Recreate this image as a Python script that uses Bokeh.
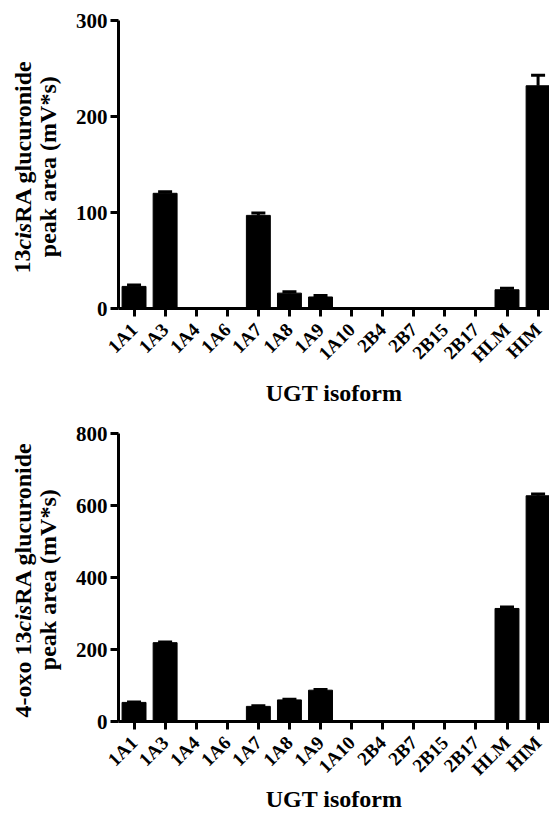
import math
from bokeh.plotting import figure
from bokeh.models import Range1d, FixedTicker, Whisker, TeeHead, ColumnDataSource
from bokeh.core.properties import value
from bokeh.layouts import column, row
from bokeh.embed import file_html
from bokeh.resources import INLINE

# ---------------- data ----------------
categories = ["1A1", "1A3", "1A4", "1A6", "1A7", "1A8", "1A9", "1A10",
              "2B4", "2B7", "2B15", "2B17", "HLM", "HIM"]
top_values = [23, 120, 0, 0, 97, 16, 12, 0, 0, 0, 0, 0, 19.5, 232]
top_errors = [1.5, 1.5, 0, 0, 2.5, 1.5, 1.5, 0, 0, 0, 0, 0, 1.5, 11]
bottom_values = [53, 219, 0, 0, 42, 60, 87, 0, 0, 0, 0, 0, 314, 627]
bottom_errors = [1.5, 2, 0, 0, 1.5, 1.5, 2, 0, 0, 0, 0, 0, 4, 5]
top_ticks = [0, 100, 200, 300]
bottom_ticks = [0, 200, 400, 600, 800]
x_title = "UGT isoform"
top_ylabel = [[("13", False), ("cis", True), ("RA glucuronide", False)],
              [("peak area (mV*s)", False)]]
bottom_ylabel = [[("4-oxo 13", False), ("cis", True), ("RA glucuronide", False)],
                 [("peak area (mV*s)", False)]]

# ---------------- style / layout ----------------
FONT = "Liberation Serif"
PAGE_W, PAGE_H = 549, 815
LABEL_W = 70                      # narrow panel holding the rotated y titles
CHART_W = PAGE_W - LABEL_W
FRAME_LEFT_PAGE = 118
FRAME_H = 288
BAR_W = 0.77
X_START = -0.5
PX_PER_CAT = 31.08
X_END = X_START + (PAGE_W - FRAME_LEFT_PAGE) / PX_PER_CAT

H1, TOP1 = 410, 20
H2, TOP2 = PAGE_H - H1, 23

# Times bold advance widths (per 1000 em)
TB = {'1': 500, '3': 500, '4': 500, '-': 333, 'o': 500, 'x': 500, ' ': 250, 'R': 722,
      'A': 722, 'g': 500, 'l': 278, 'u': 556, 'c': 444, 'r': 444, 'n': 556, 'i': 278,
      'd': 556, 'e': 444, 's': 389, 'p': 556, 'a': 500, 'k': 556, '(': 333, ')': 333,
      'm': 833, 'V': 722, '*': 500}


def text_w(t, fs):
    return sum(TB.get(ch, 500) for ch in t) / 1000.0 * fs


def make_chart(values, errors, ticks, ymax, height, border_top, title_gap):
    border_bottom = height - border_top - FRAME_H
    p = figure(width=CHART_W, height=height, output_backend="svg", toolbar_location=None,
               x_range=Range1d(X_START, X_END), y_range=Range1d(0, ymax),
               min_border_left=FRAME_LEFT_PAGE - LABEL_W, min_border_right=0,
               min_border_top=border_top, min_border_bottom=border_bottom)
    p.outline_line_color = None
    p.grid.visible = False

    xs = list(range(len(categories)))
    src = ColumnDataSource(dict(x=xs, top=values))
    p.vbar(x="x", top="top", width=BAR_W, source=src, fill_color="black",
           line_color="black", line_width=1)

    ex = [x for x, e in zip(xs, errors) if e > 0]
    lo = [v for v, e in zip(values, errors) if e > 0]
    up = [v + e for v, e in zip(values, errors) if e > 0]
    wsrc = ColumnDataSource(dict(base=ex, lower=lo, upper=up))
    p.add_layout(Whisker(base="base", lower="lower", upper="upper", source=wsrc,
                         line_width=3, line_color="black",
                         upper_head=TeeHead(size=14, line_width=3, line_color="black"),
                         lower_head=None))

    for ax in (p.xaxis[0], p.yaxis[0]):
        ax.axis_line_width = 3
        ax.axis_line_color = "black"
        ax.major_tick_line_width = 3
        ax.major_tick_line_color = "black"
        ax.major_tick_out = 8
        ax.major_tick_in = 0
        ax.minor_tick_line_color = None
        ax.major_label_text_font = FONT
        ax.major_label_text_font_style = "bold"
        ax.major_label_text_color = "black"
    p.yaxis[0].ticker = FixedTicker(ticks=ticks)
    p.yaxis[0].major_label_text_font_size = "21px"
    p.yaxis[0].major_label_standoff = 3
    xa = p.xaxis[0]
    xa.ticker = FixedTicker(ticks=xs)
    xa.major_label_overrides = {i: c for i, c in enumerate(categories)}
    xa.major_label_orientation = math.pi / 4
    xa.major_label_text_font_size = "19px"
    xa.major_label_standoff = 10
    xa.axis_label = x_title
    xa.axis_label_text_font = FONT
    xa.axis_label_text_font_style = "bold"
    xa.axis_label_text_font_size = "24px"
    xa.axis_label_text_color = "black"
    xa.axis_label_standoff = title_gap
    return p


p1 = make_chart(top_values, top_errors, top_ticks, 300, H1, TOP1, 4)
p2 = make_chart(bottom_values, bottom_errors, bottom_ticks, 800, H2, TOP2, -3)

# ---- left panel with the rotated y titles (page coordinates, y up) ----
lab = figure(width=LABEL_W, height=PAGE_H, output_backend="svg", toolbar_location=None,
             x_range=Range1d(0, LABEL_W), y_range=Range1d(0, PAGE_H),
             x_axis_type=None, y_axis_type=None,
             min_border_left=0, min_border_right=0, min_border_top=0, min_border_bottom=0)
lab.outline_line_color = None
lab.grid.visible = False

FS = 24
BASELINES = [22, 47]
tx, ty, tt, tstyle = [], [], [], []
for lines, page_top, border_top in ((top_ylabel, 0, TOP1), (bottom_ylabel, H1, TOP2)):
    center = page_top + border_top + FRAME_H / 2 + 2
    for line, bx in zip(lines, BASELINES):
        total = sum(text_w(t, FS) for t, _ in line)
        start = center + total / 2
        for t, ital in line:
            tx.append(bx)
            ty.append(PAGE_H - start)
            tt.append(t)
            tstyle.append("bold italic" if ital else "bold")
            start -= text_w(t, FS)

lsrc = ColumnDataSource(dict(x=tx, y=ty, text=tt, style=tstyle))
lab.text(x="x", y="y", text="text", source=lsrc, angle=math.pi / 2,
         text_font=value(FONT), text_font_style="style", text_font_size=value(f"{FS}px"),
         text_align="left", text_baseline="alphabetic", text_color="black")

layout = row(lab, column(p1, p2, spacing=0), spacing=0)
open("out.html", "w").write(file_html(layout, INLINE))
